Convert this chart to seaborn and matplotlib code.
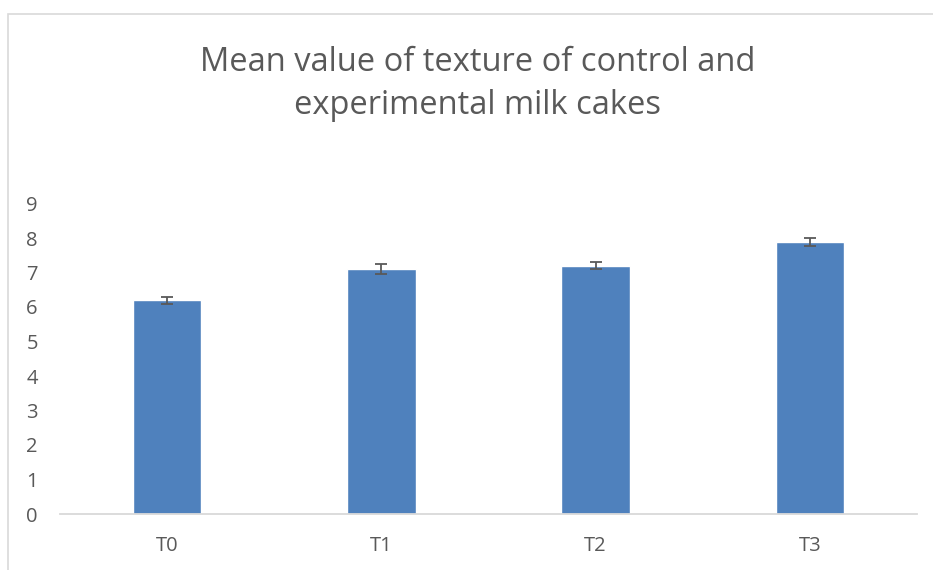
import matplotlib
matplotlib.use("Agg")
import matplotlib.pyplot as plt
import matplotlib.patches as mpatches
import seaborn as sns
import pandas as pd

categories = ["T0", "T1", "T2", "T3"]
means = [6.19, 7.11, 7.19, 7.89]
errors = [0.10, 0.15, 0.10, 0.11]
yticks = [0, 1, 2, 3, 4, 5, 6, 7, 8, 9]
title = "Mean value of texture of control and\nexperimental milk cakes"

sns.set_theme(style="white")
plt.rcParams["font.family"] = ["Open Sans", "DejaVu Sans"]

df = pd.DataFrame({"cat": categories, "val": means})

fig = plt.figure(figsize=(9.33, 5.70), dpi=100)
ax = fig.add_axes([60/933, 1-514/570, (917-60)/933, (514-203.5)/570])

sns.barplot(data=df, x="cat", y="val", color="#4f81bd", saturation=1,
            width=0.32, errorbar=None, ax=ax)
ax.errorbar(range(len(categories)), means, yerr=errors, fmt="none",
            ecolor="#595959", elinewidth=1.3, capsize=4.3, capthick=1.3)

ax.set_xlim(-0.5, 3.5)
ax.set_ylim(0, 9)
ax.set_yticks(yticks)
ax.set_yticklabels([str(t) for t in yticks])
ax.set_xlabel("")
ax.set_ylabel("")
for s in ["top", "right", "left"]:
    ax.spines[s].set_visible(False)
ax.spines["bottom"].set_color("#d9d9d9")
ax.spines["bottom"].set_linewidth(1.3)
ax.tick_params(axis="both", length=0, colors="#595959", labelsize=14.5)
ax.tick_params(axis="y", pad=16)
ax.tick_params(axis="x", pad=16)

fig.text(478/933, 1-84/570, title, ha="center", va="center",
         fontsize=23.5, color="#595959", linespacing=1.42)

border = mpatches.Rectangle((8/933, -0.1), 1.2, 1-14/570+0.1,
                            transform=fig.transFigure, fill=False,
                            edgecolor="#d9d9d9", linewidth=1.2)
fig.patches.append(border)

fig.savefig("out.png", dpi=100)
